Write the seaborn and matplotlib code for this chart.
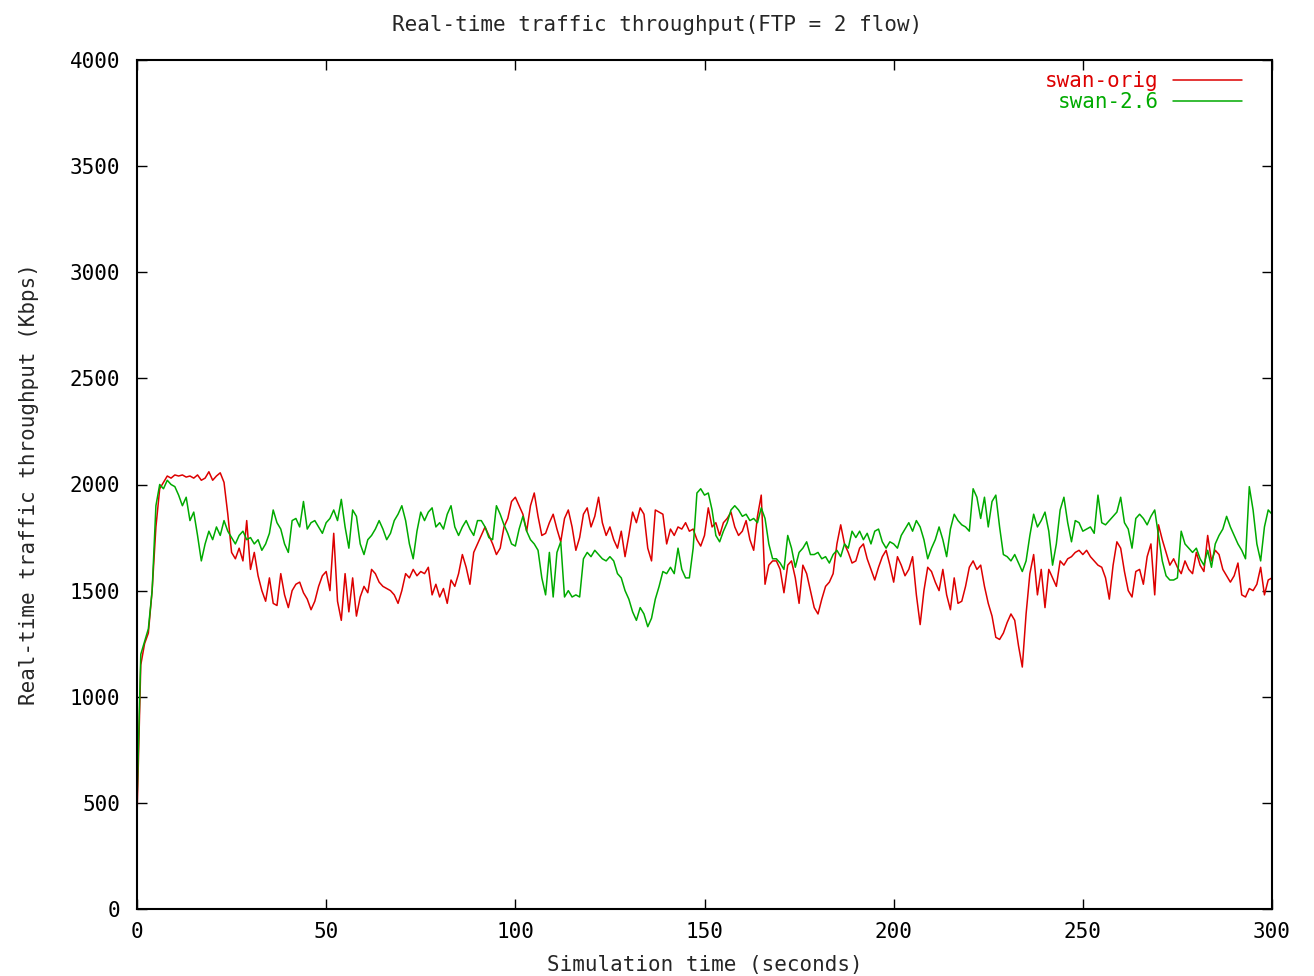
import matplotlib
matplotlib.use("Agg")
import matplotlib.pyplot as plt
import seaborn as sns
import pandas as pd

# ---- data (1-second samples) ----
time_s = list(range(0, 301))

swan_orig = [
    430, 1150, 1250, 1300, 1500, 1800, 1980, 2010, 2040, 2030,
    2045, 2040, 2045, 2035, 2040, 2030, 2045, 2020, 2030, 2060,
    2020, 2040, 2055, 2010, 1860, 1680, 1650, 1700, 1640, 1830,
    1600, 1680, 1570, 1500, 1450, 1560, 1440, 1430, 1580, 1480,
    1420, 1500, 1530, 1540, 1490, 1460, 1410, 1450, 1520, 1570,
    1590, 1500, 1770, 1450, 1360, 1580, 1400, 1560, 1380, 1470,
    1520, 1490, 1600, 1580, 1540, 1520, 1510, 1500, 1480, 1440,
    1500, 1580, 1560, 1600, 1570, 1590, 1580, 1610, 1480, 1530,
    1470, 1510, 1440, 1550, 1520, 1580, 1670, 1610, 1530, 1680,
    1720, 1760, 1800, 1760, 1720, 1670, 1700, 1800, 1840, 1920,
    1940, 1900, 1860, 1780, 1900, 1960, 1850, 1760, 1770, 1820,
    1860, 1790, 1730, 1840, 1880, 1800, 1690, 1750, 1860, 1890,
    1800, 1850, 1940, 1820, 1760, 1800, 1740, 1700, 1780, 1660,
    1760, 1870, 1820, 1890, 1860, 1700, 1640, 1880, 1870, 1860,
    1720, 1790, 1760, 1800, 1790, 1820, 1780, 1790, 1740, 1710,
    1760, 1890, 1800, 1820, 1760, 1820, 1840, 1870, 1800, 1760,
    1780, 1830, 1740, 1690, 1850, 1950, 1530, 1620, 1640, 1640,
    1600, 1490, 1620, 1640, 1560, 1440, 1620, 1580, 1500, 1420,
    1390, 1460, 1520, 1540, 1580, 1720, 1810, 1720, 1680, 1630,
    1640, 1700, 1720, 1650, 1600, 1550, 1610, 1660, 1690, 1620,
    1540, 1660, 1620, 1570, 1600, 1660, 1480, 1340, 1500, 1610,
    1590, 1540, 1500, 1600, 1480, 1410, 1560, 1440, 1450, 1520,
    1610, 1640, 1600, 1620, 1520, 1440, 1380, 1280, 1270, 1300,
    1350, 1390, 1360, 1240, 1140, 1390, 1580, 1670, 1480, 1600,
    1420, 1600, 1560, 1520, 1640, 1620, 1650, 1660, 1680, 1690,
    1670, 1690, 1660, 1640, 1620, 1610, 1560, 1460, 1620, 1730,
    1700, 1590, 1500, 1470, 1590, 1600, 1530, 1660, 1720, 1480,
    1810, 1740, 1680, 1620, 1650, 1610, 1580, 1640, 1600, 1580,
    1680, 1620, 1590, 1760, 1640, 1690, 1670, 1600, 1570, 1540,
    1570, 1630, 1480, 1470, 1510, 1500, 1530, 1610, 1480, 1550,
    1560,
]

swan_26 = [
    500, 1200, 1260, 1320, 1500, 1900, 2000, 1980, 2020, 2000,
    1990, 1950, 1900, 1940, 1830, 1870, 1760, 1640, 1720, 1780,
    1740, 1800, 1760, 1830, 1780, 1750, 1720, 1760, 1780, 1740,
    1750, 1720, 1740, 1690, 1720, 1770, 1880, 1820, 1790, 1720,
    1680, 1830, 1840, 1800, 1920, 1790, 1820, 1830, 1800, 1770,
    1820, 1840, 1880, 1830, 1930, 1800, 1700, 1880, 1850, 1720,
    1670, 1740, 1760, 1790, 1830, 1790, 1740, 1770, 1830, 1860,
    1900, 1830, 1720, 1650, 1780, 1870, 1830, 1870, 1890, 1800,
    1820, 1790, 1860, 1900, 1800, 1760, 1800, 1830, 1790, 1760,
    1830, 1830, 1800, 1750, 1740, 1900, 1860, 1810, 1770, 1720,
    1710, 1790, 1850, 1780, 1740, 1720, 1690, 1560, 1480, 1680,
    1470, 1680, 1730, 1470, 1500, 1470, 1480, 1470, 1650, 1680,
    1660, 1690, 1670, 1650, 1640, 1660, 1640, 1580, 1560, 1500,
    1460, 1400, 1360, 1420, 1390, 1330, 1370, 1460, 1520, 1590,
    1580, 1610, 1580, 1700, 1600, 1560, 1560, 1700, 1960, 1980,
    1950, 1960, 1880, 1760, 1730, 1780, 1820, 1880, 1900, 1880,
    1850, 1860, 1830, 1840, 1820, 1890, 1840, 1720, 1650, 1650,
    1630, 1600, 1760, 1700, 1610, 1680, 1700, 1730, 1670, 1670,
    1680, 1650, 1660, 1630, 1670, 1690, 1660, 1720, 1700, 1780,
    1750, 1780, 1740, 1770, 1720, 1780, 1790, 1730, 1700, 1730,
    1720, 1700, 1760, 1790, 1820, 1780, 1830, 1800, 1740, 1650,
    1700, 1740, 1800, 1740, 1660, 1790, 1860, 1830, 1810, 1800,
    1780, 1980, 1940, 1840, 1940, 1800, 1920, 1950, 1800, 1670,
    1660, 1640, 1670, 1630, 1590, 1640, 1760, 1860, 1800, 1830,
    1870, 1780, 1620, 1720, 1880, 1940, 1820, 1730, 1830, 1820,
    1780, 1790, 1800, 1770, 1950, 1820, 1810, 1830, 1850, 1870,
    1940, 1820, 1790, 1700, 1840, 1860, 1840, 1810, 1850, 1880,
    1760, 1640, 1570, 1550, 1550, 1560, 1780, 1720, 1700, 1680,
    1700, 1650, 1620, 1690, 1610, 1720, 1760, 1790, 1850, 1800,
    1760, 1720, 1690, 1650, 1990, 1880, 1720, 1640, 1800, 1880,
    1860,
]

series_names = ["swan-orig", "swan-2.6"]
x_ticks = [0, 50, 100, 150, 200, 250, 300]
y_ticks = [0, 500, 1000, 1500, 2000, 2500, 3000, 3500, 4000]

title_text = "Real-time traffic throughput(FTP = 2 flow)"
x_label = "Simulation time (seconds)"
y_label = "Real-time traffic throughput (Kbps)"

# ---- build table ----
df = pd.DataFrame({
    "time": time_s + time_s,
    "throughput": swan_orig + swan_26,
    "series": [series_names[0]] * len(swan_orig) + [series_names[1]] * len(swan_26),
})

# ---- style ----
sns.set_style("ticks")
plt.rcParams["font.family"] = ["DejaVu Sans Mono", "DejaVu Sans"]
fs = 15

fig = plt.figure(figsize=(13.14, 9.76), dpi=100)
ax = fig.add_axes([137 / 1314, 67 / 976, 1135 / 1314, 849 / 976])

palette = {series_names[0]: "#dd0000", series_names[1]: "#00aa00"}
sns.lineplot(data=df, x="time", y="throughput", hue="series",
             hue_order=series_names, palette=palette, estimator=None,
             linewidth=1.1, ax=ax)

ax.set_xlim(0, 300)
ax.set_ylim(0, 4000)
ax.set_xticks(x_ticks)
ax.set_yticks(y_ticks)
ax.set_xticklabels([str(v) for v in x_ticks], fontsize=fs)
ax.set_yticklabels([str(v) for v in y_ticks], fontsize=fs)
ax.tick_params(direction="in", length=7, width=1.0, top=True, right=True,
               colors="black")
ax.tick_params(axis="y", pad=12)
ax.tick_params(axis="x", pad=9)
for sp in ax.spines.values():
    sp.set_visible(True)
    sp.set_linewidth(1.5)
    sp.set_color("black")

ax.set_xlabel(x_label, fontsize=fs, labelpad=10)
ax.set_ylabel(y_label, fontsize=fs, labelpad=22)
fig.text(0.5, 1 - 25 / 976, title_text, ha="center", va="center", fontsize=fs)

leg = ax.legend(loc="upper right", frameon=False, markerfirst=False,
                labelcolor="linecolor", fontsize=fs, handlelength=3.3,
                handletextpad=0.7, labelspacing=0.05, borderaxespad=0.6,
                bbox_to_anchor=(1 - 9 / 1135, 1 + 10 / 849), title=None)

fig.savefig("out.png", dpi=100)
